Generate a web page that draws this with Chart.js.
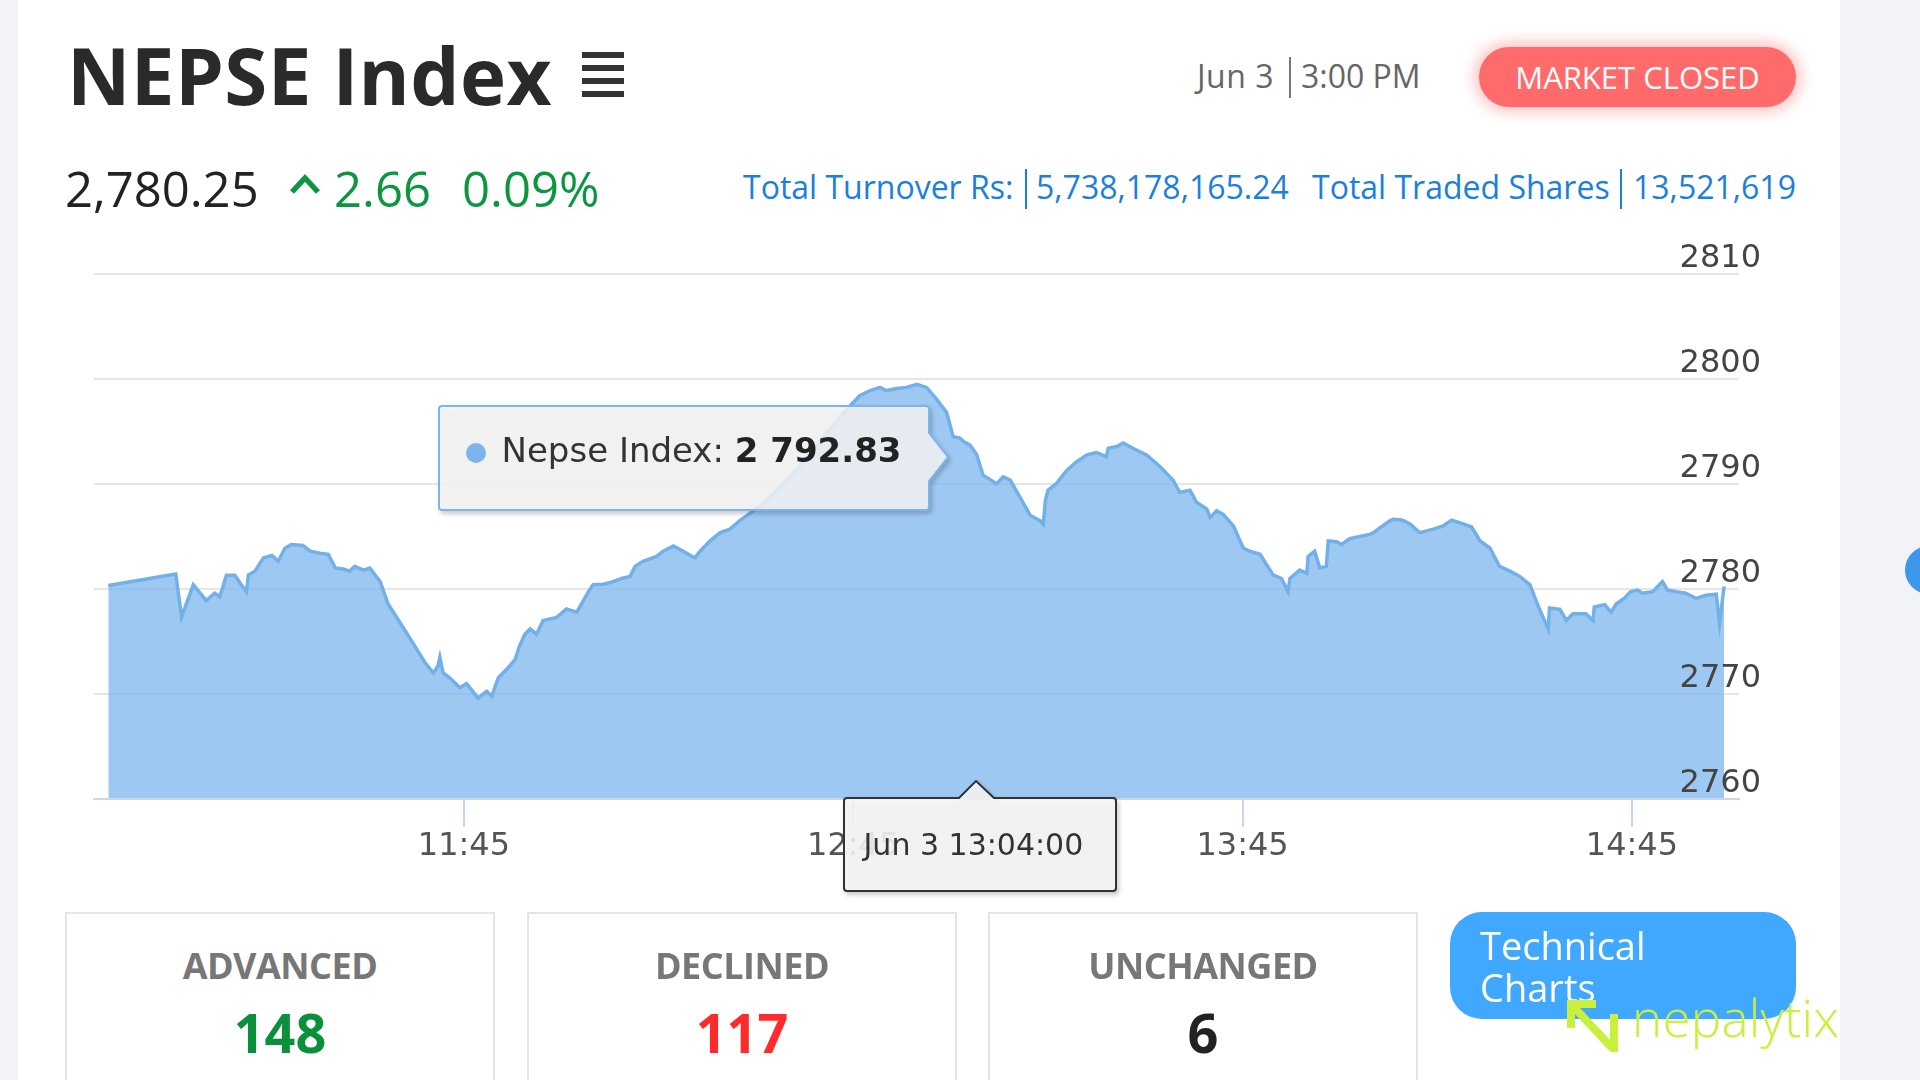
<!DOCTYPE html>
<html>
<head>
<meta charset="utf-8">
<script src="https://cdn.jsdelivr.net/npm/chart.js@4.4.1/dist/chart.umd.min.js"></script>
<style>
html,body{margin:0;padding:0;}
body{width:1920px;height:1080px;background:#f2f3f7;position:relative;overflow:hidden;font-family:'Open Sans',sans-serif;}
#card{position:absolute;left:18px;top:0;width:1822px;height:1080px;background:#fff;}
.abs{position:absolute;white-space:nowrap;}
.bar{position:absolute;left:582px;width:42px;height:6px;background:#333;}
.blue{font:400 32px/32px 'Open Sans';color:#1a80dc;top:171px;}
.bsep{position:absolute;top:169px;width:2px;height:40px;background:#1a80dc;}
.green{font:400 49px/49px 'Open Sans';color:#0d9640;top:164px;}
.box{position:absolute;top:912px;width:430px;height:200px;border:2px solid #e4e4e4;box-sizing:border-box;background:#fff;}
.box .lab{position:absolute;left:0;right:0;top:34px;text-align:center;font:700 36px/36px 'Open Sans';color:#777;letter-spacing:-0.5px;}
.box .val{position:absolute;left:0;right:0;top:91px;text-align:center;font:700 54px/54px 'Open Sans';}
#chartWrap{position:absolute;left:18px;top:200px;width:1822px;height:720px;}
#tipBox{position:absolute;display:none;width:520px;height:115px;}
#tipBox svg{position:absolute;left:0;top:0;filter:drop-shadow(2px 3px 2px rgba(0,0,0,0.22));}
#xLabel{position:absolute;display:none;width:280px;height:118px;}
#xLabel svg{position:absolute;left:0;top:0;filter:drop-shadow(2px 3px 2px rgba(0,0,0,0.22));}
</style>
</head>
<body>
<div id="card"></div>

<!-- header -->
<div class="abs" style="left:67px;top:36px;font:700 78px/78px 'Open Sans';color:#2a2a2a;letter-spacing:0.4px;">NEPSE Index</div>
<div class="bar" style="top:52px"></div>
<div class="bar" style="top:65px"></div>
<div class="bar" style="top:78px"></div>
<div class="bar" style="top:91px"></div>

<div class="abs" style="left:1197px;top:60px;font:400 32px/32px 'Open Sans';color:#666;letter-spacing:0.5px;">Jun 3</div>
<div class="abs" style="left:1289px;top:57px;width:2px;height:41px;background:#777;"></div>
<div class="abs" style="left:1301px;top:60px;font:400 32px/32px 'Open Sans';color:#666;">3:00 PM</div>

<div class="abs" style="left:1479px;top:47px;width:317px;height:60px;border-radius:30px;background:#ff6a6a;box-shadow:0 0 14px 5px rgba(255,106,106,0.40);display:flex;align-items:center;justify-content:center;color:#fff;font:400 31px/31px 'Open Sans';">MARKET CLOSED</div>

<div class="abs" style="left:65px;top:164px;font:400 49px/49px 'Open Sans';color:#222;">2,780.25</div>
<svg class="abs" style="left:289px;top:172px" width="32" height="24"><polyline points="3,20 16,6 29,20" fill="none" stroke="#0d9640" stroke-width="5.5"/></svg>
<div class="abs green" style="left:334px;">2.66</div>
<div class="abs green" style="left:462px;">0.09%</div>

<div class="abs blue" style="left:743px;">Total Turnover Rs:</div>
<div class="bsep" style="left:1025px;"></div>
<div class="abs blue" style="left:1036px;">5,738,178,165.24</div>
<div class="abs blue" style="left:1312px;">Total Traded Shares</div>
<div class="bsep" style="left:1620px;"></div>
<div class="abs blue" style="left:1633px;">13,521,619</div>

<div class="abs" style="left:1905px;top:546px;width:48px;height:48px;border-radius:50%;background:#3d97ea;"></div>

<!-- chart -->
<div id="chartWrap"><canvas id="c" width="1822" height="720"></canvas></div>

<!-- bottom cards -->
<div class="box" style="left:65px;"><div class="lab">ADVANCED</div><div class="val" style="color:#0a8f3a;">148</div></div>
<div class="box" style="left:527px;"><div class="lab">DECLINED</div><div class="val" style="color:#ff2b2b;">117</div></div>
<div class="box" style="left:988px;"><div class="lab">UNCHANGED</div><div class="val" style="color:#222;">6</div></div>
<div class="abs" style="left:1450px;top:912px;width:346px;height:107px;border-radius:32px;background:#41a8ff;">
  <div style="position:absolute;left:30px;top:12px;font:400 38px/42px 'Open Sans';color:#fff;">Technical<br>Charts</div>
</div>
<svg class="abs" style="left:1562px;top:996px" width="60" height="60">
  <polyline points="9,32 9,8 34,8" fill="none" stroke="#c8f03c" stroke-width="8"/>
  <line x1="10" y1="9" x2="50" y2="52" stroke="#c8f03c" stroke-width="8"/>
  <line x1="52" y1="18" x2="52" y2="56" stroke="#c8f03c" stroke-width="8"/>
</svg>
<div class="abs" style="left:1632px;top:992px;font:300 51px/51px 'Open Sans';color:#c8f03c;letter-spacing:0.3px;">nepalytix</div>

<!-- tooltip (filled by Chart.js external tooltip handler) -->
<div id="tipBox">
  <svg width="520" height="115"><path d="M4,1 H488 Q491,1 491,4 V28 L510,52 L491,76 V102 Q491,105 488,105 H4 Q1,105 1,102 V4 Q1,1 4,1 Z" fill="rgba(247,247,247,0.85)" stroke="#7cb5ec" stroke-width="2"/></svg>
  <div style="position:absolute;left:28px;top:38px;width:20px;height:20px;border-radius:50%;background:#7cb5ec;"></div>
  <div style="position:absolute;left:64px;top:28px;font:400 34px/34px 'DejaVu Sans';color:#333;white-space:nowrap;"><span id="tipName"></span><b id="tipVal" style="color:#222;"></b></div>
</div>
<div id="xLabel">
  <svg width="280" height="118"><path d="M4,18 H116 L133,1 L151,18 H270 Q273,18 273,21 V108 Q273,111 270,111 H4 Q1,111 1,108 V21 Q1,18 4,18 Z" fill="rgba(247,247,247,0.88)" stroke="#333" stroke-width="2"/></svg>
  <div id="xLabelText" style="position:absolute;left:21px;top:50px;font:400 30px/30px 'DejaVu Sans';color:#333;white-space:nowrap;"></div>
</div>

<script>
// ---------- data ----------
const seriesName = 'Nepse Index';
const tradeDate = 'Jun 3';
const times = ['10:50:12','11:00:36','11:01:30','11:03:18','11:05:18','11:06:36','11:07:24','11:08:24','11:09:42','11:10:42',
'11:11:30','11:11:48','11:12:48','11:14:06','11:15:24','11:16:24','11:17:24','11:18:24','11:20:12','11:21:18',
'11:22:48','11:24:06','11:25:12','11:26:24','11:27:24','11:28:12','11:29:30','11:30:30','11:32:06','11:33:18',
'11:35:06','11:37:12','11:39:00','11:40:18','11:41:00','11:41:18','11:41:48','11:42:48','11:44:24','11:45:24',
'11:47:12','11:48:30','11:49:18','11:50:18','11:51:36','11:52:54','11:53:36','11:54:24','11:55:12','11:56:12',
'11:57:12','11:59:18','12:00:48','12:02:24','12:04:12','12:04:54','12:06:30','12:08:00','12:09:18','12:10:36',
'12:11:24','12:12:36','12:14:42','12:15:42','12:17:18','12:18:48','12:20:36','12:21:24','12:22:54','12:24:30',
'12:26:00','12:27:30','12:29:18','12:31:06','12:33:42','12:36:12','12:38:48','12:41:24','12:44:00','12:46:00',
'12:47:36','12:49:06','12:50:06','12:51:42','12:53:12','12:54:48','12:56:18','12:57:48','12:59:24','13:00:24',
'13:01:24','13:02:00','13:03:00','13:04:00','13:05:00','13:07:06','13:08:06','13:09:12','13:10:24','13:12:18',
'13:13:48','13:14:18','13:14:36','13:15:00','13:16:18','13:17:54','13:19:24','13:21:00','13:22:30','13:24:00',
'13:24:18','13:25:36','13:26:36','13:28:06','13:30:12','13:32:18','13:34:18','13:35:18','13:36:54','13:37:54',
'13:39:30','13:40:00','13:41:00','13:42:00','13:43:36','13:45:06','13:46:06','13:47:42','13:49:42','13:51:00',
'13:52:00','13:52:18','13:53:48','13:54:54','13:55:06','13:56:06','13:56:54','13:57:54','13:58:12','13:59:30',
'14:00:18','14:01:30','14:03:06','14:04:36','14:05:12','14:06:12','14:07:42','14:08:12','14:09:18','14:09:48',
'14:10:48','14:12:18','14:14:24','14:15:54','14:17:12','14:19:00','14:20:18','14:21:36','14:23:06','14:24:36',
'14:26:12','14:27:42','14:29:18','14:30:30','14:32:06','14:32:18','14:33:54','14:34:54','14:35:54','14:37:54',
'14:39:00','14:39:12','14:40:48','14:41:48','14:42:36','14:43:48','14:44:48','14:45:54','14:46:36','14:48:12',
'14:49:42','14:50:30','14:51:48','14:53:18','14:54:54','14:56:24','14:58:00','14:58:30','14:59:12'];
const indexValues = [2780.33,2781.42,2777.34,2780.4,2778.9,2779.6,2779.27,2781.3,2781.3,2780.4,
2779.75,2781.35,2781.7,2782.96,2783.2,2782.65,2783.86,2784.24,2784.15,2783.6,
2783.4,2783.3,2782.0,2781.9,2781.7,2782.16,2781.8,2782.0,2780.7,2778.6,
2776.86,2774.8,2773.0,2772.0,2772.67,2773.5,2772.0,2771.55,2770.6,2771.0,
2769.6,2770.26,2769.8,2771.55,2772.35,2773.3,2774.6,2775.7,2776.2,2775.7,
2777.0,2777.3,2778.1,2777.8,2779.75,2780.4,2780.45,2780.7,2781.0,2781.2,
2782.16,2782.64,2783.1,2783.6,2784.1,2783.6,2782.96,2783.6,2784.57,2785.37,
2785.7,2786.5,2787.3,2788.1,2789.7,2791.3,2793.25,2795.2,2797.1,2798.4,
2798.9,2799.2,2798.9,2799.1,2799.2,2799.5,2799.2,2798.1,2796.8,2794.5,
2794.4,2794.05,2793.7,2792.83,2790.84,2790.03,2790.67,2790.36,2789.07,2787.0,
2786.5,2786.17,2788.4,2789.4,2790.03,2791.3,2792.1,2792.77,2793.0,2792.6,
2793.4,2793.57,2793.9,2793.4,2792.77,2791.64,2790.36,2789.2,2789.4,2788.26,
2787.6,2786.8,2787.46,2787.1,2786.0,2783.9,2783.6,2783.3,2781.35,2781.0,
2779.75,2781.0,2781.8,2781.5,2783.1,2783.6,2782.0,2782.16,2784.57,2784.5,
2784.24,2784.8,2785.0,2785.2,2785.37,2785.85,2786.5,2786.65,2786.6,2786.5,
2786.2,2785.37,2785.7,2786.0,2786.56,2786.2,2785.9,2784.57,2783.9,2782.16,
2781.7,2781.2,2780.4,2778.45,2776.2,2778.2,2778.07,2777.0,2777.65,2777.65,
2777.0,2778.3,2778.5,2777.8,2778.6,2779.1,2779.75,2779.9,2779.6,2779.75,
2780.7,2779.9,2779.75,2779.6,2779.1,2779.4,2779.5,2776.7,2780.25];
const xTickTimes = ['11:45','12:45','13:45','14:45'];
const xRange = ['10:48:00','15:01:30'];
const yTicks = [2760,2770,2780,2790,2800,2810];
const tooltipTime = '13:04:00';

// ---------- helpers ----------
function toMin(t){const p=t.split(':').map(Number);return p[0]*60+p[1]+(p[2]||0)/60;}
function fmtTime(m){const h=Math.floor(m/60), mm=Math.round(m-h*60);return h+':'+String(mm).padStart(2,'0');}
function fmtVal(v){const s=v.toFixed(2).split('.');return s[0].replace(/\B(?=(\d{3})+(?!\d))/g,' ')+'.'+s[1];}

const WRAP_L = 18, WRAP_T = 200;
const Y_LABEL_RIGHT = 1761 - WRAP_L;  // right edge of y labels in canvas px

function externalTooltip(context){
  const {chart, tooltip} = context;
  const box = document.getElementById('tipBox');
  const lab = document.getElementById('xLabel');
  if(!tooltip.dataPoints || !tooltip.dataPoints.length){box.style.display='none';lab.style.display='none';return;}
  const dp = tooltip.dataPoints[0];
  const px = WRAP_L + dp.element.x;
  const py = WRAP_T + dp.element.y;
  box.style.display='block';
  box.style.left = (px - 539) + 'px';
  box.style.top = (py - 49) + 'px';
  document.getElementById('tipName').textContent = dp.dataset.label + ': ';
  document.getElementById('tipVal').textContent = fmtVal(dp.parsed.y);
  lab.style.display='block';
  lab.style.left = (px - 134) + 'px';
  lab.style.top = (WRAP_T + chart.chartArea.bottom - 19) + 'px';
  document.getElementById('xLabelText').textContent = tradeDate + ' ' + times[dp.dataIndex];
}

const data = times.map((t,i)=>({x:toMin(t), y:indexValues[i]}));

const chart = new Chart(document.getElementById('c'), {
  type:'line',
  data:{datasets:[{
    label: seriesName,
    data: data,
    yAxisID:'y',
    borderColor:'#72b0ea',
    backgroundColor:'rgba(124,181,236,0.75)',
    borderWidth:3.5,
    fill:'start',
    pointRadius:0,
    pointHoverRadius:0,
    tension:0
  }]},
  options:{
    responsive:false,
    animation:false,
    devicePixelRatio:1,
    events:[],
    layout:{padding:{left:76,right:101,top:74,bottom:21}},
    plugins:{
      legend:{display:false},
      title:{display:false},
      tooltip:{enabled:false, external: externalTooltip, mode:'nearest', intersect:false}
    },
    scales:{
      x:{
        type:'linear',
        min: toMin(xRange[0]), max: toMin(xRange[1]),
        afterBuildTicks: s => { s.ticks = xTickTimes.map(t=>({value: toMin(t)})); },
        afterFit: s => { s.height = 100; },
        grid:{display:true, drawOnChartArea:false, drawTicks:true, tickLength:28, color:'#ccd6eb', lineWidth:2},
        border:{display:true, color:'#ccd6eb', width:2, z:1},
        ticks:{
          callback: v => fmtTime(v),
          font:{family:'DejaVu Sans', size:32},
          color:'#555',
          padding:0,
          maxRotation:0,
          autoSkip:false
        }
      },
      // grid lines (drawn beneath the area)
      y:{
        position:'right',
        min: yTicks[0], max: yTicks[yTicks.length-1],
        afterBuildTicks: s => { s.ticks = yTicks.map(v=>({value:v})); },
        afterFit: s => { s.width = 0; },
        grid:{color:'#e6e6e6', lineWidth:2, drawTicks:false},
        border:{display:false},
        ticks:{display:false}
      },
      // tick labels (drawn above the area)
      yLabels:{
        position:'right',
        min: yTicks[0], max: yTicks[yTicks.length-1],
        afterBuildTicks: s => { s.ticks = yTicks.map(v=>({value:v})); },
        afterFit: s => { s.width = 0; },
        grid:{display:false, drawTicks:false},
        border:{display:false},
        ticks:{
          z:2,
          mirror:true,
          crossAlign:'near',
          callback: v => String(v),
          font:{family:'DejaVu Sans', size:32},
          color:'#444',
          padding:0,
          labelOffset:-15,
          autoSkip:false
        }
      }
    }
  }
});

// place the mirrored y labels so their right edge sits just past the plot edge
(function alignYLabels(){
  try{
    const labX = () => { const it = chart.scales.yLabels.getLabelItems(); return it[0].options.translation[0]; };
    const x0 = labX();
    chart.options.scales.yLabels.ticks.padding = 10; chart.update();
    const x1 = labX();
    const dir = (x1 - x0) / 10;
    if (dir !== 0) {
      chart.options.scales.yLabels.ticks.padding = 10 + (Y_LABEL_RIGHT - x1) / dir;
      chart.update();
    }
  }catch(e){}
})();

const tipIdx = times.indexOf(tooltipTime);
chart.tooltip.setActiveElements([{datasetIndex:0, index:tipIdx}], {x:0, y:0});
chart.update();
</script>
</body>
</html>
